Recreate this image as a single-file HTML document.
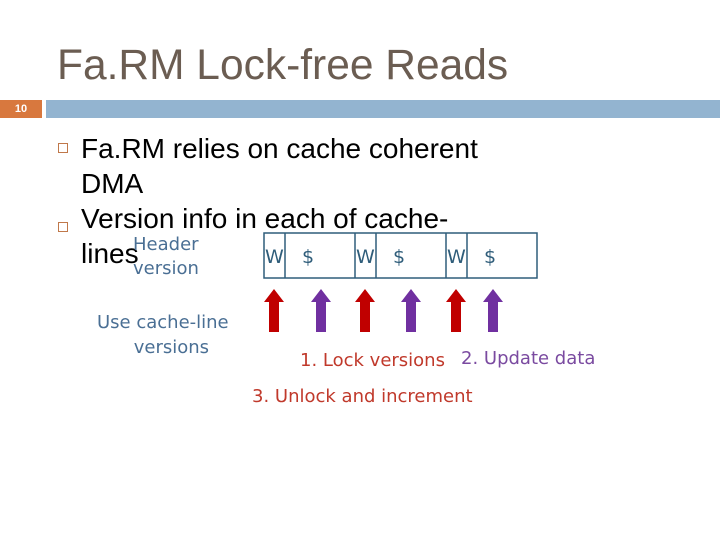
<!DOCTYPE html>
<html><head><style>
body{margin:0;width:720px;height:540px;background:#fff;position:relative;overflow:hidden;font-family:"Liberation Sans",sans-serif}
.a{position:absolute}
.t{left:57px;top:42px;font-size:42.5px;color:#6b5d52;white-space:nowrap}
.b{font-size:28px;color:#000;line-height:35px;white-space:nowrap}
.sq{width:8px;height:8px;border:1.5px solid #c0784a}
.c{font-family:"DejaVu Sans",sans-serif;font-size:19px;white-space:nowrap}
</style></head><body>
<div class="a t">Fa.RM Lock-free Reads</div>
<div class="a" style="left:0;top:100px;width:42px;height:18px;background:#d8783e;color:#fff;font-size:11px;font-weight:bold;text-align:center;line-height:18px">10</div>
<div class="a" style="left:46px;top:100px;width:674px;height:18px;background:#93b4d0"></div>
<div class="a sq" style="left:58px;top:143px"></div>
<div class="a sq" style="left:58px;top:222px"></div>
<div class="a b" style="left:81px;top:131px">Fa.RM relies on cache coherent<br>DMA<br>Version info in each of cache-<br>lines</div>
<div class="a c" style="left:133px;top:233px;color:#4a6f94;line-height:24px;font-size:18px">Header<br>version</div>
<div class="a c" style="left:97px;top:310px;color:#4a6f94;line-height:25px;font-size:18px;text-align:center">Use cache-line<br>&nbsp;&nbsp;&nbsp;versions</div>
<svg class="a" style="left:0;top:0" width="720" height="540">
<g fill="none" stroke="#2f5d7a" stroke-width="1.5">
<rect x="264" y="233" width="273" height="45"/>
<line x1="285" y1="233" x2="285" y2="278"/><line x1="355" y1="233" x2="355" y2="278"/>
<line x1="376" y1="233" x2="376" y2="278"/><line x1="446" y1="233" x2="446" y2="278"/>
<line x1="467" y1="233" x2="467" y2="278"/>
</g>
<g font-family="DejaVu Sans,sans-serif" font-size="19" fill="#2f5d7a">
<text x="265" y="263">W</text><text x="302" y="263">$</text>
<text x="356" y="263">W</text><text x="393" y="263">$</text>
<text x="447" y="263">W</text><text x="484" y="263">$</text>
</g>
<defs><path id="ar" d="M-5,43 L-5,13 L-10,13 L0,0 L10,13 L5,13 L5,43 Z"/></defs>
<g fill="#c00000"><use href="#ar" x="274" y="289"/><use href="#ar" x="365" y="289"/><use href="#ar" x="456" y="289"/></g>
<g fill="#7030a0"><use href="#ar" x="321" y="289"/><use href="#ar" x="411" y="289"/><use href="#ar" x="493" y="289"/></g>
<g font-family="DejaVu Sans,sans-serif" font-size="18">
<text x="300" y="366" fill="#c0392b">1. Lock versions</text>
<text x="461" y="364" fill="#7a4aa0">2. Update data</text>
<text x="252" y="402" fill="#c0392b">3. Unlock and increment</text>
</g>
</svg>
</body></html>
